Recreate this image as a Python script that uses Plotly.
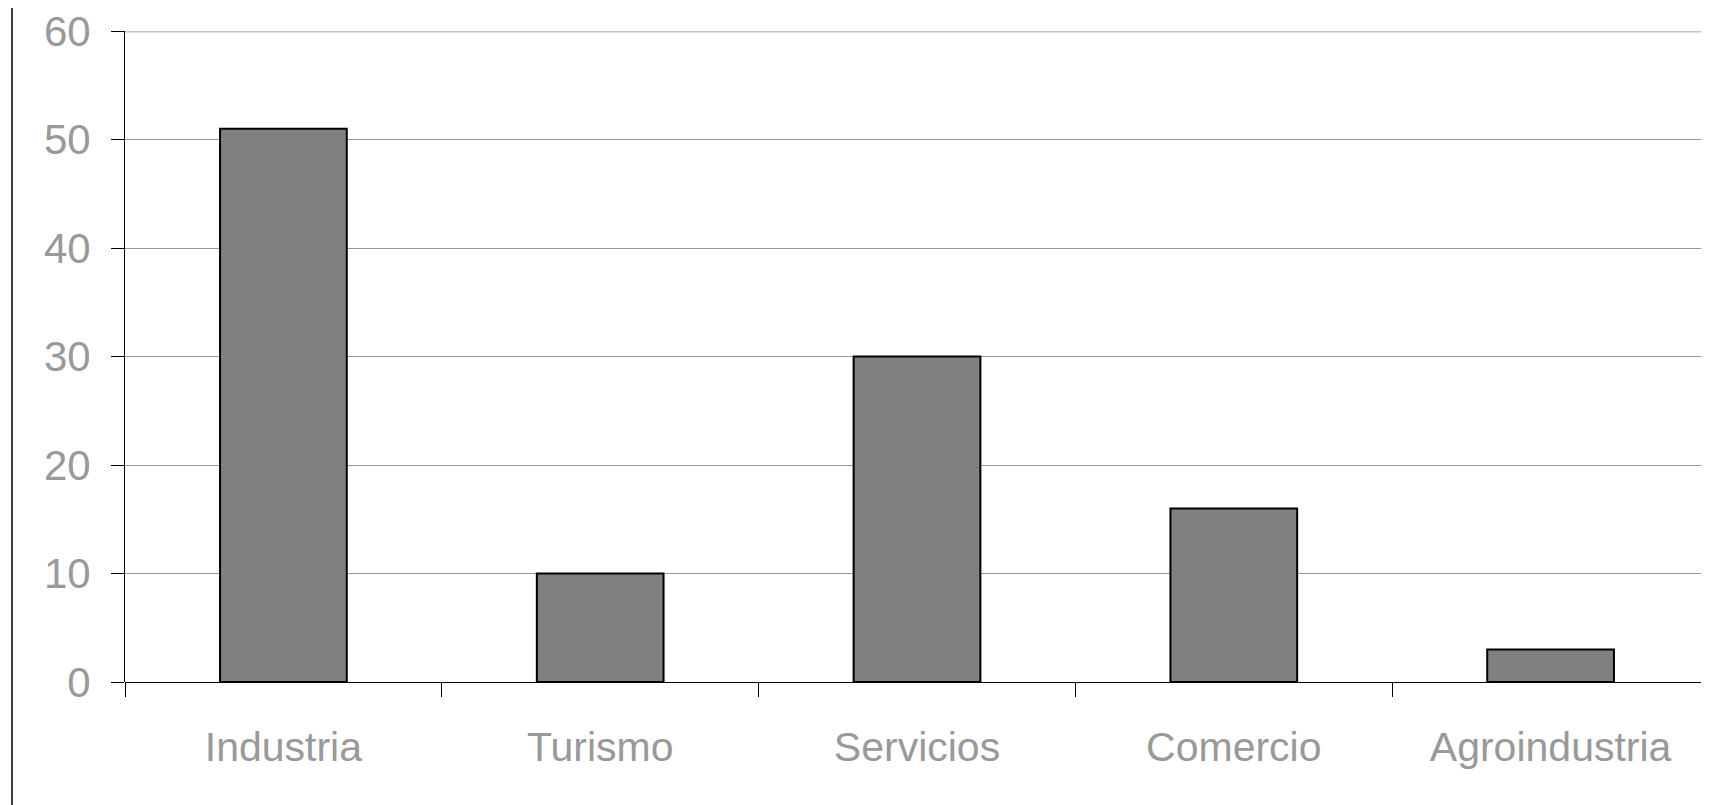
import plotly.graph_objects as go

categories = ["Industria", "Turismo", "Servicios", "Comercio", "Agroindustria"]
values = [51, 10, 30, 16, 3]
y_ticks = [0, 10, 20, 30, 40, 50, 60]

# page body has an 8px default margin; size the figure to fit the window
W, H = 1701, 797
ML, MR, MT, MB = 117, 0, 21, 123
PW = W - ML - MR
PH = H - MT - MB

fig = go.Figure()
fig.add_trace(go.Bar(
    x=categories, y=values,
    width=0.4,
    marker=dict(color="#808080", line=dict(color="#000000", width=2)),
    showlegend=False,
))

fig.update_layout(
    width=W, height=H,
    margin=dict(l=ML, r=MR, t=MT, b=MB, pad=0),
    paper_bgcolor="white", plot_bgcolor="white",
    font=dict(family="Liberation Sans, Arial, sans-serif", size=41, color="#999999"),
    xaxis=dict(
        type="category",
        tickson="boundaries",
        ticks="outside", ticklen=14, tickwidth=1, tickcolor="#000000",
        showline=False,
        showgrid=False,
        tickfont=dict(size=41, color="#999999"),
        ticklabelstandoff=37,
        range=[-0.5, 4.5],
    ),
    yaxis=dict(
        range=[0, 60],
        tickvals=y_ticks,
        ticks="outside", ticklen=13, tickwidth=1, tickcolor="#000000",
        showline=True, linecolor="#000000", linewidth=1,
        showgrid=True, gridcolor="#999999", gridwidth=1,
        zeroline=True, zerolinecolor="#000000", zerolinewidth=1,
        tickfont=dict(size=42, color="#999999"),
        ticklabelstandoff=12,
        ticklabeloverflow="allow",
    ),
)

# top gridline at 60 (lighter, thicker)
fig.add_shape(type="line", xref="paper", yref="y", x0=0, x1=1, y0=60, y1=60,
              line=dict(color="#c4c4c4", width=3), layer="below")
# left frame line
fig.add_shape(type="line", xref="paper", yref="paper",
              x0=(4 - ML) / PW, x1=(4 - ML) / PW,
              y0=-(MB + 8) / PH, y1=1 + (MT + 8) / PH,
              line=dict(color="#000000", width=1.5))

fig.write_html("out.html")
